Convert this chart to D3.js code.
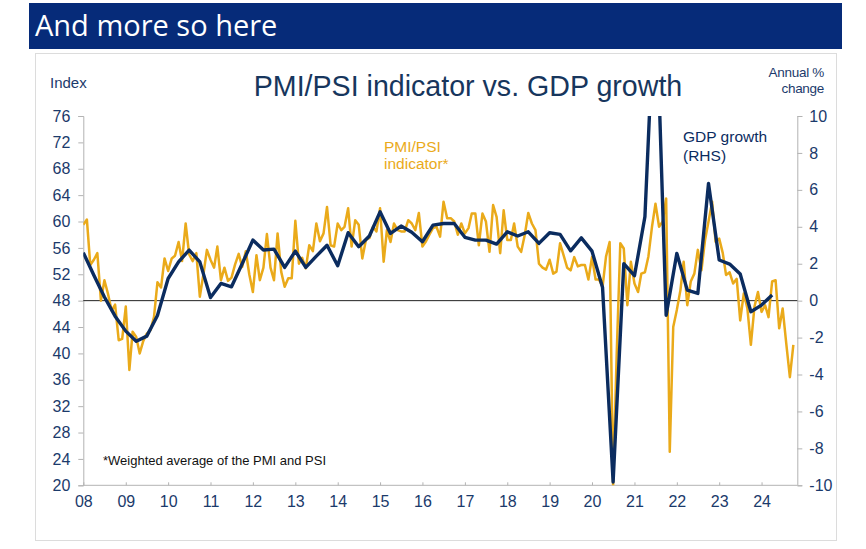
<!DOCTYPE html>
<html><head><meta charset="utf-8">
<script src="https://cdn.jsdelivr.net/npm/d3@7"></script>
<style>
html,body{margin:0;padding:0;background:#fff;}
svg{display:block;font-family:"Liberation Sans",Arial,sans-serif;}
</style></head>
<body>
<svg id="c" width="866" height="549"></svg>
<script>
// ---- data ----
const startYear = 2008;
// monthly PMI/PSI composite indicator, Jan 2008 onwards
const pmiPsi = [
  59.5, 60.3, 53.4, 54.2, 55.2, 48.0, 51.1, 49.0, 46.5, 47.4, 42.0, 42.2, // 2008
  47.1, 37.5, 43.3, 42.5, 40.0, 41.9, 43.0, 43.5, 45.5, 50.8, 50.0, 54.4, // 2009
  52.5, 54.4, 54.8, 56.9, 54.0, 59.7, 55.0, 54.0, 55.2, 48.6, 52.0, 55.7, // 2010
  54.2, 53.0, 56.2, 51.1, 53.0, 51.0, 51.5, 53.5, 55.1, 53.1, 55.5, 52.0, // 2011
  49.3, 54.9, 51.1, 53.0, 58.1, 53.0, 51.1, 58.2, 52.4, 50.1, 51.4, 51.4, // 2012
  60.1, 53.6, 54.5, 52.9, 56.4, 55.5, 59.7, 57.0, 58.2, 62.2, 56.4, 56.2, // 2013
  59.7, 58.7, 59.2, 62.0, 56.2, 60.2, 59.5, 54.4, 57.2, 57.5, 59.2, 58.5, // 2014
  62.0, 53.9, 58.7, 56.9, 59.7, 58.7, 58.5, 58.5, 60.2, 59.7, 58.7, 61.3, // 2015
  56.2, 57.0, 58.0, 59.0, 59.2, 57.7, 63.0, 60.5, 60.5, 60.0, 58.0, 59.7, // 2016
  58.2, 59.0, 61.2, 61.2, 56.4, 61.2, 60.0, 55.4, 62.5, 60.7, 55.2, 61.7, // 2017
  57.2, 57.2, 59.7, 56.2, 55.4, 58.0, 61.3, 59.7, 58.7, 53.6, 53.0, 52.7, // 2018
  54.2, 52.1, 52.4, 56.7, 54.9, 53.0, 52.6, 54.6, 53.2, 53.4, 53.4, 51.2, // 2019
  54.6, 51.2, 51.2, 50.1, 54.7, 56.9, 20.0, 40.0, 56.7, 55.9, 47.3, 53.9, // 2020
  50.6, 49.3, 52.1, 52.3, 54.7, 59.2, 62.7, 59.2, 60.0, 63.5, 25.1, 44.0, // 2021
  46.6, 49.6, 53.9, 47.3, 50.9, 52.1, 55.7, 52.6, 57.2, 60.0, 63.0, 56.9, // 2022
  57.4, 55.2, 51.9, 52.3, 50.6, 51.3, 45.0, 49.1, 46.8, 41.3, 47.1, 49.3, // 2023
  46.3, 47.3, 45.5, 50.9, 51.1, 43.8, 46.8, 41.5, 36.4, 41.3              // 2024
];
// quarterly GDP growth, annual % change (RHS), Q1 2008 onwards
const gdpGrowth = [
  2.6, 1.38, 0.2, -0.84,    // 2008
  -1.65, -2.2, -1.92, -0.8, // 2009
  1.2, 2.1, 2.74, 2.1,      // 2010
  0.17, 0.93, 0.75, 2.0,    // 2011
  3.28, 2.74, 2.79, 1.8,    // 2012
  2.68, 1.8, 2.41, 3.0,     // 2013
  1.89, 3.68, 2.92, 3.5,    // 2014
  4.81, 3.64, 4.04, 3.7,    // 2015
  3.19, 4.09, 4.18, 4.18,   // 2016
  3.43, 3.28, 3.28, 3.06,   // 2017
  3.73, 3.5, 3.73, 3.1,     // 2018
  3.68, 3.59, 2.7, 3.4,     // 2019
  2.68, 0.71, -9.82, 2.0,   // 2020
  1.35, 4.54, 17.4, -0.79,  // 2021
  2.56, 0.57, 0.39, 6.35,   // 2022
  2.2, 1.98, 1.44, -0.6,    // 2023
  -0.24, 0.3                // 2024
];
const leftTicks = [20,24,28,32,36,40,44,48,52,56,60,64,68,72,76];
const rightTicks = [-10,-8,-6,-4,-2,0,2,4,6,8,10];
const yearTicks = [2008,2009,2010,2011,2012,2013,2014,2015,2016,2017,2018,2019,2020,2021,2022,2023,2024];
const yearLabels = ["08","09","10","11","12","13","14","15","16","17","18","19","20","21","22","23","24"];

// ---- layout ----
const svg = d3.select("#c");
const L = 83.3, R = 797.3, T = 116, B = 485.3;
const navy = "#0b2c5f", orange = "#eaaa1a", labelCol = "#1b3a6b";

// header bar and card
svg.append("rect").attr("x",29).attr("y",3).attr("width",813).attr("height",46).attr("fill","#062b79");
svg.append("text").attr("x",35).attr("y",36).attr("fill","#fff")
  .style("font-family","'Open Sans',sans-serif").style("font-size","29px").text("And more so here");
svg.append("rect").attr("x",35.5).attr("y",53.5).attr("width",801).attr("height",487)
  .attr("fill","none").attr("stroke","#dcdcdc").attr("stroke-width",1);

const x = d3.scaleTime().domain([new Date(2008,0,1), new Date(2024,10,4)]).range([L,R]);
const yL = d3.scaleLinear().domain([20,76]).range([B,T]);
const yR = d3.scaleLinear().domain([-10,10]).range([B,T]);

const monthDates = pmiPsi.map((v,i)=>new Date(startYear, i, 1));
const qDates = gdpGrowth.map((v,i)=>new Date(startYear, i*3, 1));

// axes
const axisCol = "#b3b3b3";
const gL = svg.append("g").attr("transform",`translate(${L},0)`)
  .call(d3.axisLeft(yL).tickValues(leftTicks).tickSize(5).tickPadding(8).tickFormat(d3.format("d")));
const gR = svg.append("g").attr("transform",`translate(${R},0)`)
  .call(d3.axisRight(yR).tickValues(rightTicks).tickSize(5).tickPadding(7).tickFormat(d=>d<0?"-"+Math.abs(d):d));
const gX = svg.append("g").attr("transform",`translate(0,${B})`)
  .call(d3.axisBottom(x).tickValues(yearTicks.map(y=>new Date(y,0,1))).tickSize(-3).tickPadding(10)
    .tickFormat((d,i)=>yearLabels[i]));
[gL,gR,gX].forEach(g=>{
  g.selectAll(".domain").attr("stroke",axisCol);
  g.selectAll(".tick line").attr("stroke",axisCol);
  g.selectAll(".tick text").attr("fill",labelCol).style("font-size","16px")
    .style("font-family","'Liberation Sans',Arial,sans-serif");
});
gX.select(".domain").attr("d",`M${L},0H${R}`);

// 48 / zero line
svg.append("line").attr("x1",L).attr("x2",R).attr("y1",yL(48)).attr("y2",yL(48))
  .attr("stroke","#222").attr("stroke-width",1);

// clip
svg.append("clipPath").attr("id","plot").append("rect")
  .attr("x",L).attr("y",T).attr("width",R-L).attr("height",B-T);

const lineP = d3.line().x((d,i)=>x(monthDates[i])).y(d=>yL(d));
const lineG = d3.line().x((d,i)=>x(qDates[i])).y(d=>yR(d));

svg.append("path").datum(pmiPsi).attr("d",lineP).attr("fill","none")
  .attr("stroke",orange).attr("stroke-width",2.5).attr("stroke-linejoin","round")
  .attr("clip-path","url(#plot)");
svg.append("path").datum(gdpGrowth).attr("d",lineG).attr("fill","none")
  .attr("stroke",navy).attr("stroke-width",3.4).attr("stroke-linejoin","round")
  .attr("clip-path","url(#plot)");

// texts
svg.append("text").attr("x",468).attr("y",96).attr("text-anchor","middle").attr("fill","#17365d")
  .style("font-size","28.6px").text("PMI/PSI indicator vs. GDP growth");
svg.append("text").attr("x",50).attr("y",88).attr("fill",labelCol).style("font-size","15px").text("Index");
svg.append("text").attr("x",824).attr("y",77).attr("text-anchor","end").attr("fill",labelCol)
  .style("font-size","13.5px").style("letter-spacing","-0.3px").text("Annual %");
svg.append("text").attr("x",824).attr("y",93).attr("text-anchor","end").attr("fill",labelCol)
  .style("font-size","13.5px").style("letter-spacing","-0.3px").text("change");
svg.append("text").attr("x",384).attr("y",152).attr("fill",orange).style("font-size","15.5px").text("PMI/PSI");
svg.append("text").attr("x",384).attr("y",169).attr("fill",orange).style("font-size","15.5px").text("indicator*");
svg.append("text").attr("x",683).attr("y",142).attr("fill",navy).style("font-size","15.5px").text("GDP growth");
svg.append("text").attr("x",683).attr("y",161).attr("fill",navy).style("font-size","15.5px").text("(RHS)");
svg.append("text").attr("x",103).attr("y",465).attr("fill","#111").style("font-size","13px").text("*Weighted average of the PMI and PSI");
</script>
</body></html>
